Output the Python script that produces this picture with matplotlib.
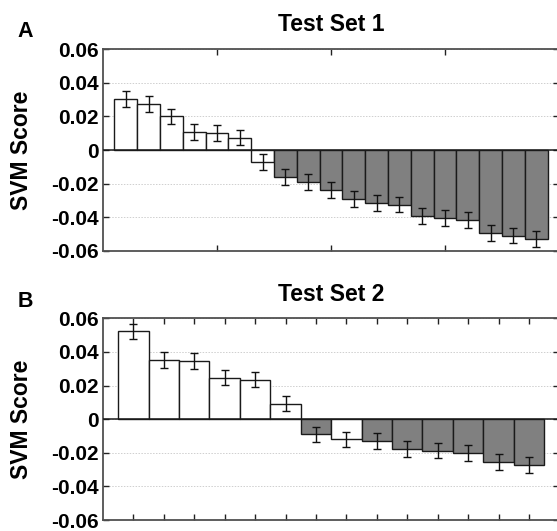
import matplotlib
matplotlib.use("Agg")
import matplotlib.pyplot as plt
import numpy as np

plt.rcParams['font.family'] = ['Liberation Sans', 'DejaVu Sans']

# ---- data ----
test1_scores = [0.0304, 0.0272, 0.0200, 0.0105, 0.0099, 0.0073, -0.0071,
                -0.0163, -0.0190, -0.0240, -0.0290, -0.0315, -0.0325,
                -0.0393, -0.0407, -0.0415, -0.0496, -0.0510, -0.0532]
test1_errors = [0.0046, 0.0047, 0.0046, 0.0047, 0.0047, 0.0046, 0.0046,
                0.0047, 0.0047, 0.0047, 0.0047, 0.0047, 0.0047,
                0.0047, 0.0047, 0.0047, 0.0047, 0.0047, 0.0047]
test1_group = ['neg'] * 7 + ['pos'] * 12

test2_scores = [0.0522, 0.0353, 0.0347, 0.0247, 0.0235, 0.0093, -0.0091,
                -0.0120, -0.0130, -0.0178, -0.0187, -0.0201, -0.0256, -0.0274]
test2_errors = [0.0045, 0.0046, 0.0046, 0.0046, 0.0046, 0.0045, 0.0047,
                0.0045, 0.0046, 0.0046, 0.0046, 0.0046, 0.0046, 0.0047]
test2_group = ['neg'] * 6 + ['pos'] + ['neg'] + ['pos'] * 6

ytick_vals = [-0.06, -0.04, -0.02, 0, 0.02, 0.04, 0.06]
ytick_labels = ['-0.06', '-0.04', '-0.02', '0', '0.02', '0.04', '0.06']

titles = ['Test Set 1', 'Test Set 2']
panel_letters = ['A', 'B']

# ---- figure ----
W, H = 557, 531
fig = plt.figure(figsize=(W / 100, H / 100), dpi=100)

fill = {'neg': 'white', 'pos': '#808080'}
edge = '#1a1a1a'
spine_c = '#505050'


def px_axes(left, top, right, bottom):
    return fig.add_axes([left / W, (H - bottom) / H, (right - left) / W, (bottom - top) / H])


panels = [
    dict(scores=test1_scores, errors=test1_errors, group=test1_group,
         box=(103, 49.3, 559, 250.7), xticks=[5, 10, 15], pad=13.3),
    dict(scores=test2_scores, errors=test2_errors, group=test2_group,
         box=(103, 318.3, 559.4, 520), xticks=None, pad=12.6),
]

for i, p in enumerate(panels):
    ax = px_axes(*p['box'])
    n = len(p['scores'])
    x = np.arange(1, n + 1)
    colors = [fill[g] for g in p['group']]
    ax.bar(x, p['scores'], width=1.0, color=colors, edgecolor=edge,
           linewidth=1.0, zorder=3)
    ax.errorbar(x, p['scores'], yerr=p['errors'], fmt='none', ecolor='#111111',
                elinewidth=1.0, capsize=3.2, capthick=1.0, zorder=4)
    ax.axhline(0, color=edge, lw=1.1, zorder=5)
    ax.set_xlim(0, n + 1)
    ax.set_ylim(-0.06, 0.06)
    ax.set_yticks(ytick_vals)
    ax.set_yticklabels(ytick_labels, fontsize=15, fontweight='bold')
    xt = p['xticks'] if p['xticks'] is not None else list(x)
    ax.set_xticks(xt)
    ax.set_xticklabels([])
    ax.tick_params(direction='in', top=True, right=True, length=4,
                   width=1.0, color='#222222', pad=3)
    ax.grid(axis='y', linestyle=(0, (1.5, 1.5)), color='#cfcfcf', lw=0.7, zorder=0)
    for s in ax.spines.values():
        s.set_color(spine_c)
        s.set_linewidth(1.3)
    ax.set_title(titles[i], fontsize=16.5, fontweight='bold', pad=p['pad'])
    ax.set_ylabel('SVM Score', fontsize=16.5, fontweight='bold')
    ax.yaxis.set_label_coords(-(p['box'][0] - 33.5) / (p['box'][2] - p['box'][0]), 0.5)

fig.text(25.3 / W, 1 - 31.5 / H, panel_letters[0], fontsize=15.5, fontweight='bold',
         ha='center', va='center')
fig.text(25.5 / W, 1 - 301.5 / H, panel_letters[1], fontsize=15.5, fontweight='bold',
         ha='center', va='center')

fig.savefig('out.png', dpi=100)
